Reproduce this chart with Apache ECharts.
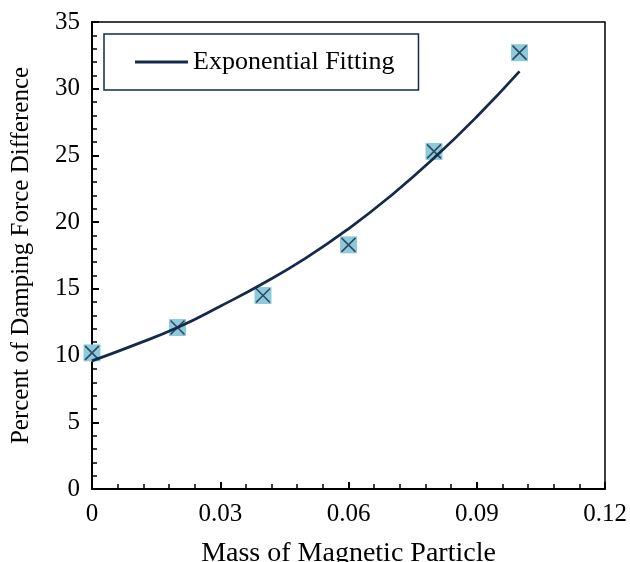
<!DOCTYPE html>
<html><head><meta charset="utf-8">
<script src="https://cdn.jsdelivr.net/npm/echarts@6/dist/echarts.min.js"></script>
<style>html,body{margin:0;padding:0;background:#fff}#c{width:630px;height:562px}</style>
</head><body><div id="c"></div>
<script>
// Measured data
var massX = [0, 0.02, 0.04, 0.06, 0.08, 0.10];
var percentY = [10.2, 12.1, 14.5, 18.3, 25.3, 32.7];
// Fitted curve
var fitX = [0, 0.01, 0.02, 0.03, 0.04, 0.05, 0.06, 0.07, 0.08, 0.09, 0.10];
var fitY = [9.6, 10.8, 12.1, 13.7, 15.4, 17.3, 19.5, 22.0, 24.8, 27.9, 31.3];
var xTicks = [0, 0.03, 0.06, 0.09, 0.12];
var yTicks = [0, 5, 10, 15, 20, 25, 30, 35];
var legendName = 'Exponential Fitting';
var xTitle = 'Mass of Magnetic Particle';
var yTitle = 'Percent of Damping Force Difference';

var FONT = "'Liberation Serif','Times New Roman',serif";
var NAVY = '#152a4a';
function pairs(a, b) { return a.map(function (v, i) { return [v, b[i]]; }); }

var chart = echarts.init(document.getElementById('c'), null, {renderer: 'canvas'});
chart.setOption({
  animation: false,
  backgroundColor: '#fff',
  textStyle: {fontFamily: FONT},
  grid: {left: 92, right: 25, top: 22, bottom: 73, outerBoundsMode: 'none', containLabel: false,
    show: true, borderColor: '#000', borderWidth: 1.5, backgroundColor: 'transparent'},
  legend: {
    data: [{name: legendName, icon: 'rect'}], left: 104, top: 34,
    padding: [15, 24, 15, 31], itemWidth: 53, itemHeight: 3, itemGap: 5,
    borderColor: NAVY, borderWidth: 1.5, backgroundColor: '#fff',
    textStyle: {fontFamily: FONT, fontSize: 26, color: '#000'}
  },
  xAxis: {
    type: 'value', min: xTicks[0], max: xTicks[xTicks.length - 1], interval: 0.03,
    name: xTitle, nameLocation: 'middle', nameGap: 51,
    nameTextStyle: {fontFamily: FONT, fontSize: 28, color: '#000'},
    axisLine: {show: true, lineStyle: {color: '#000', width: 2}},
    axisTick: {show: true, inside: true, length: 7, lineStyle: {color: '#000', width: 2}},
    minorTick: {show: true, splitNumber: 5, length: 5, lineStyle: {color: '#000', width: 1.5}},
    splitLine: {show: false},
    axisLabel: {fontFamily: FONT, fontSize: 25, color: '#000', margin: 13,
      formatter: function (v) { var s = +v.toFixed(2); return s === 0 ? '0' : String(s); }}
  },
  yAxis: {
    type: 'value', min: yTicks[0], max: yTicks[yTicks.length - 1], interval: 5,
    name: yTitle, nameLocation: 'middle', nameGap: 58,
    nameTextStyle: {fontFamily: FONT, fontSize: 25, color: '#000'},
    axisLine: {show: true, lineStyle: {color: '#000', width: 2}},
    axisTick: {show: true, inside: true, length: 7, lineStyle: {color: '#000', width: 2}},
    minorTick: {show: true, splitNumber: 5, length: 5, lineStyle: {color: '#000', width: 1.5}},
    splitLine: {show: false},
    axisLabel: {fontFamily: FONT, fontSize: 25, color: '#000', margin: 12}
  },
  series: [
    {
      name: 'data-box', type: 'scatter', data: pairs(massX, percentY),
      symbol: 'rect', symbolSize: 17, z: 2,
      itemStyle: {color: '#8fcadb', opacity: 1}
    },
    {
      name: legendName, type: 'line', data: pairs(fitX, fitY),
      smooth: true, symbol: 'none', showSymbol: false, z: 3,
      lineStyle: {color: NAVY, width: 2.75}, itemStyle: {color: NAVY}
    },
    {
      name: 'data-x', type: 'scatter', data: pairs(massX, percentY),
      symbol: 'path://M0,0L10,10M10,0L0,10', symbolSize: 14, z: 4,
      itemStyle: {color: 'rgba(0,0,0,0)', borderColor: NAVY, borderWidth: 1.6}
    }
  ]
});
</script></body></html>
